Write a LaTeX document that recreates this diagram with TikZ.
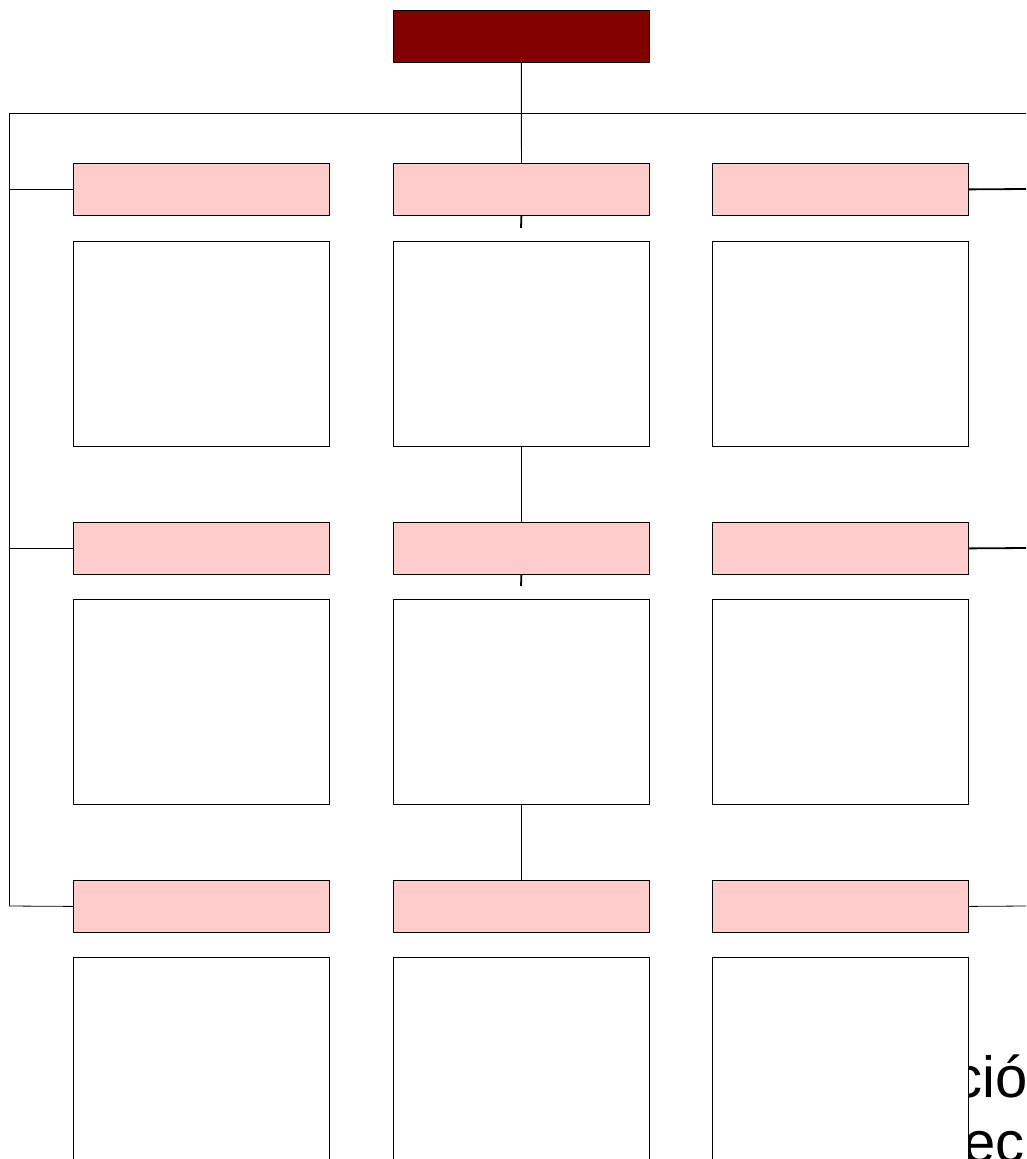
\documentclass[tikz,border=0pt]{standalone}
\usepackage{fontspec}
\setmainfont{Liberation Sans}
\definecolor{darkred}{HTML}{800000}
\definecolor{pinkc}{HTML}{FFCCCC}
\begin{document}
\begin{tikzpicture}[x=1pt,y=-1pt,
  topbox/.style={draw=black, fill=darkred, minimum width=256pt, minimum height=52pt, anchor=north west, inner sep=0pt, line width=0.7pt},
  hdr/.style={draw=black, fill=pinkc, minimum width=256pt, minimum height=52pt, anchor=north west, inner sep=0pt, line width=0.8pt},
  body/.style={draw=black, fill=white, minimum width=256pt, minimum height=205pt, anchor=north west, inner sep=0pt, line width=0.8pt},
  conn/.style={draw=black, line width=0.8pt},
  thick conn/.style={draw=black, line width=1.8pt},
  big/.style={font=\fontsize{58}{65}\selectfont, inner sep=0pt, anchor=base west}]
\useasboundingbox (0,0) rectangle (1026,1159);
\clip (0,0) rectangle (1026,1159);
% partially hidden text behind boxes
\node[big] (txa) at (953,1097) {ció};
\node[big] (txb) at (963,1162) {ec};
% top
\node[topbox] (top) at (393,10) {};
% headers and bodies
\foreach \r/\y in {1/163, 2/522, 3/880} {
  \node[hdr] (p\r1) at (73,\y) {};
  \node[hdr] (p\r2) at (393,\y) {};
  \node[hdr] (p\r3) at (712,\y) {};
}
\foreach \r/\y in {1/241, 2/599, 3/957} {
  \node[body] (w\r1) at (73,\y) {};
  \node[body] (w\r2) at (393,\y) {};
  \node[body] (w\r3) at (712,\y) {};
}
% coordinates
\coordinate (hl) at (9,113);
\coordinate (hr) at (1026,113);
\coordinate (bl) at (9,906);
\coordinate (r1) at (1026,189);
\coordinate (r2) at (1026,548);
\coordinate (r3) at (1026,906);
\coordinate (t1) at (521,228);
\coordinate (t2) at (521,586);
% connectors
\draw[conn] (top.south) -- (p12.north);
\draw[conn] (hr) -- (hl) -- (bl);
\draw[conn] (hl |- p11.west) -- (p11.west);
\draw[conn] (hl |- p21.west) -- (p21.west);
\draw[conn] (bl) -- (p31.west);
\draw[thick conn] (p12.south) -- (t1);
\draw[thick conn] (p22.south) -- (t2);
\draw[conn] (w12.south) -- (p22.north);
\draw[conn] (w22.south) -- (p32.north);
\draw[thick conn] (p13.east) -- (r1);
\draw[thick conn] (p23.east) -- (r2);
\draw[conn] (p33.east) -- (r3);
\end{tikzpicture}
\end{document}
